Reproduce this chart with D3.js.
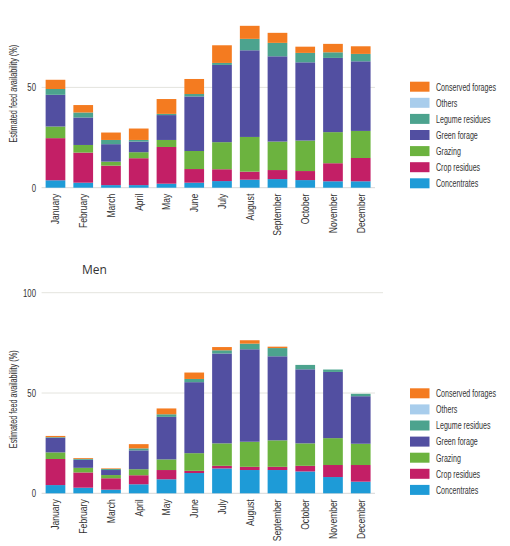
<!DOCTYPE html>
<html>
<head>
<meta charset="utf-8">
<script src="https://cdn.jsdelivr.net/npm/d3@7"></script>
<style>
  html, body { margin: 0; padding: 0; background: #fff; }
  svg { display: block; }
  .cond { font-family: "Liberation Sans", Arial, sans-serif; }
</style>
</head>
<body>
<svg id="chart" width="510" height="546"></svg>
<script>
const months = ["January","February","March","April","May","June","July","August","September","October","November","December"];
const seriesNames = ["Concentrates","Crop residues","Grazing","Green forage","Legume residues","Others","Conserved forages"];
const seriesColors = ["#1e9bd7","#c31f66","#6cb33f","#524fa1","#4ca38e","#a8cdec","#f47b20"];
const yTicks = [0, 50, 100];

// Upper chart (values in %)
const topConcentrates    = [3.7, 2.5, 1.3, 1.3, 2.0, 2.5, 3.3, 4.0, 4.3, 3.8, 3.2, 3.2];
const topCropResidues    = [21.0, 15.0, 9.7, 13.4, 18.3, 6.8, 5.9, 4.0, 4.5, 4.5, 9.0, 11.6];
const topGrazing         = [5.8, 3.8, 2.0, 3.0, 3.5, 9.0, 13.5, 17.3, 14.2, 15.2, 15.5, 13.5];
const topGreenForage     = [15.8, 13.7, 8.7, 5.3, 12.4, 27.2, 38.5, 43.2, 42.5, 39.0, 37.0, 34.7];
const topLegumeResidues  = [2.9, 2.5, 2.1, 0.8, 0.6, 1.2, 1.0, 5.7, 6.7, 4.7, 2.8, 3.7];
const topOthers          = [0, 0, 0, 0, 0, 0, 0, 0, 0, 0, 0, 0];
const topConserved       = [4.6, 3.7, 3.7, 5.7, 7.4, 7.5, 8.8, 6.5, 5.0, 3.1, 4.2, 3.8];

// Lower chart "Men" (values in %)
const menConcentrates    = [4.1, 2.8, 1.8, 4.5, 7.0, 10.1, 12.4, 11.6, 11.6, 10.9, 8.1, 5.8];
const menCropResidues    = [13.0, 7.6, 5.7, 4.5, 4.6, 1.1, 1.3, 1.6, 1.6, 2.8, 6.0, 8.3];
const menGrazing         = [3.3, 2.3, 1.6, 3.0, 5.3, 8.8, 11.2, 12.5, 13.2, 11.2, 13.4, 10.6];
const menGreenForage     = [7.3, 4.0, 2.5, 9.4, 21.2, 35.4, 44.8, 46.1, 41.9, 36.9, 33.0, 23.7];
const menLegumeResidues  = [0.3, 0.5, 0.5, 1.0, 1.3, 1.6, 1.6, 2.8, 4.1, 2.2, 1.2, 1.2];
const menOthers          = [0, 0, 0, 0, 0, 0, 0, 0, 0, 0, 0, 0];
const menConserved       = [0.6, 0.4, 0.3, 2.1, 2.9, 3.2, 1.6, 1.7, 0.7, 0, 0, 0];

function buildRows(arrs) {
  return months.map((m, i) => {
    const r = { month: m };
    seriesNames.forEach((s, k) => r[s] = arrs[k][i]);
    return r;
  });
}

const topRows = buildRows([topConcentrates, topCropResidues, topGrazing, topGreenForage, topLegumeResidues, topOthers, topConserved]);
const menRows = buildRows([menConcentrates, menCropResidues, menGrazing, menGreenForage, menLegumeResidues, menOthers, menConserved]);

const svg = d3.select("#chart");
const x = d3.scaleBand().domain(months).range([41.6, 374.6]).paddingInner(0.29).paddingOuter(0.145);
const color = d3.scaleOrdinal().domain(seriesNames).range(seriesColors);
const stack = d3.stack().keys(seriesNames);

// measure a sample string to obtain a horizontal condensing factor
function condenseFactor(sample, fontSize, target) {
  const t = svg.append("text").attr("class", "cond").attr("font-size", fontSize).text(sample);
  const w = t.node().getComputedTextLength();
  t.remove();
  return target / w;
}
const sMonth = condenseFactor("September", 11, 42);
const sLegend = condenseFactor("Conserved forages", 11, 60);
const sTitle = condenseFactor("Estimated feed availability (%)", 10.5, 98);
const sTick = condenseFactor("100", 11.5, 13);

function drawChart(rows, y0, title, legendTop) {
  const y = d3.scaleLinear().domain([0, 100]).range([y0, y0 - 200.6]);
  const g = svg.append("g");

  // gridlines
  g.selectAll("line.grid").data(yTicks).join("line")
    .attr("x1", 41.6).attr("x2", d => d === 100 ? 383 : 375)
    .attr("y1", d => y(d)).attr("y2", d => y(d))
    .attr("stroke", d => d === 0 ? "#d8d8d8" : "#e4e4de").attr("stroke-width", 1);

  // y tick labels
  g.selectAll("text.ytick").data(yTicks.filter(t => y(t) > 0)).join("text")
    .attr("class", "cond")
    .attr("transform", d => `translate(36,${y(d)}) scale(${sTick},1)`)
    .attr("dy", "0.35em")
    .attr("text-anchor", "end").attr("font-size", 11.5).attr("fill", "#333")
    .text(d => d);

  // y title
  g.append("text").attr("class", "cond")
    .attr("transform", `translate(17,${y0 - 94}) rotate(-90) scale(${sTitle},1)`)
    .attr("text-anchor", "middle").attr("font-size", 10.5).attr("fill", "#333")
    .text("Estimated feed availability (%)");

  // bars
  const layers = stack(rows);
  g.selectAll("g.layer").data(layers).join("g")
    .attr("fill", d => color(d.key))
    .selectAll("rect").data(d => d).join("rect")
    .attr("x", d => x(d.data.month))
    .attr("width", x.bandwidth())
    .attr("y", d => y(d[1]))
    .attr("height", d => Math.max(0, y(d[0]) - y(d[1])));

  // x labels
  g.selectAll("text.xlab").data(months).join("text")
    .attr("class", "cond")
    .attr("transform", d => `translate(${x(d) + x.bandwidth() / 2 + 4},${y0 + 6}) rotate(-90) scale(${sMonth},1)`)
    .attr("text-anchor", "end").attr("font-size", 11).attr("fill", "#333")
    .text(d => d);

  // legend
  const legendOrder = seriesNames.slice().reverse();
  const lg = g.append("g");
  legendOrder.forEach((s, i) => {
    const cy = legendTop + i * 16.1;
    lg.append("rect").attr("x", 410).attr("y", cy - 5).attr("width", 19.5).attr("height", 10).attr("fill", color(s));
    lg.append("text").attr("class", "cond")
      .attr("transform", `translate(436,${cy}) scale(${sLegend},1)`)
      .attr("dy", "0.35em")
      .attr("font-size", 11).attr("fill", "#333").text(s);
  });

  if (title) {
    svg.append("text").attr("x", 82).attr("y", y0 - 224)
      .attr("dy", "0.35em")
      .attr("font-family", "'Open Sans', sans-serif").attr("font-size", 12).attr("fill", "#333")
      .text(title);
  }
}

drawChart(topRows, 187.7, null, 86.7);
drawChart(menRows, 493.3, "Men", 393.3);
</script>
</body>
</html>
